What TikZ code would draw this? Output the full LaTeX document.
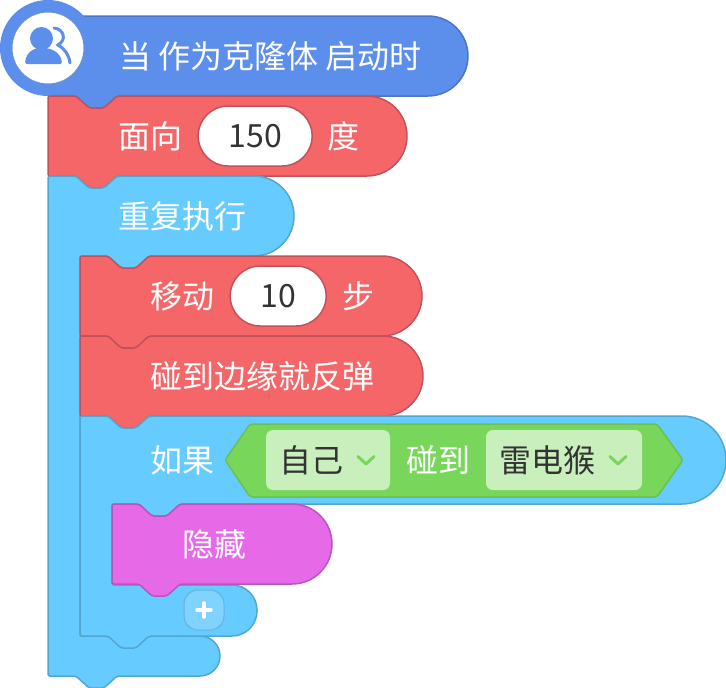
\documentclass[tikz,border=0pt]{standalone}
\usepackage{fontspec}
\usepackage{xcolor}
\setmainfont{Noto Sans CJK SC}
\usetikzlibrary{positioning}

\definecolor{headfill}{HTML}{5C8EEC}
\definecolor{headline}{HTML}{4A76C4}
\definecolor{motionfill}{HTML}{F56668}
\definecolor{motionline}{HTML}{C4515A}
\definecolor{loopfill}{HTML}{66CCFF}
\definecolor{loopline}{HTML}{52A6D0}
\definecolor{lookfill}{HTML}{E66AE8}
\definecolor{lookline}{HTML}{B855BA}
\definecolor{sensefill}{HTML}{78D65A}
\definecolor{senseline}{HTML}{6CC04E}
\definecolor{menufill}{HTML}{C9F0BC}
\definecolor{addfill}{HTML}{80D2FF}
\definecolor{addline}{HTML}{62B4DE}
\definecolor{darktext}{HTML}{333333}

% stack block: style, left, top, right, bottom
\newcommand{\stackblock}[5]{%
  \draw[#1, rounded corners=2pt] (#2,#3) -- (#2+28,#3) -- ++(13,12) -- ++(15,0) -- ++(13,-12)
    [rounded corners=40pt] -- (#4,#3) -- (#4,#5)
    [rounded corners=2pt] -- (#2+69,#5) -- ++(-13,12) -- ++(-15,0) -- ++(-13,-12) -- (#2,#5) -- cycle;
}

\begin{document}
\begin{tikzpicture}[
    x=1pt, y=-1pt,
    node distance=16pt,
    headblock/.style={draw=headline, fill=headfill, line width=1.5pt},
    motionblock/.style={draw=motionline, fill=motionfill, line width=1.5pt},
    loopblock/.style={draw=loopline, fill=loopfill, line width=1.5pt},
    lookblock/.style={draw=lookline, fill=lookfill, line width=1.5pt},
    senseblock/.style={draw=senseline, fill=sensefill, line width=1.5pt},
    whitetext/.style={text=white, font=\fontsize{32}{34}\selectfont, inner sep=0pt, anchor=west},
    pillbox/.style={draw=motionline, fill=white, line width=1.5pt, rounded corners=30pt,
      minimum height=60pt, inner sep=0pt, text=darktext, font=\fontsize{32}{34}\selectfont},
    menubox/.style={fill=menufill, rounded corners=7pt, minimum height=60pt, inner sep=0pt,
      text=darktext, font=\fontsize{32}{34}\selectfont},
    chevron/.style={draw=sensefill, line width=3pt, line cap=round, line join=round}
  ]
  \useasboundingbox (0,0) rectangle (726,688);

  % hat block
  \draw[headblock, rounded corners=2pt] (48,16) [rounded corners=40pt] -- (468,16) -- (468,96)
    [rounded corners=2pt] -- (117,96) -- ++(-13,12) -- ++(-15,0) -- ++(-13,-12) -- (48,96) -- cycle;
  \node[circle, fill=headfill, minimum size=96pt, inner sep=0pt] (hatdisc) at (48,48) {};
  \node[circle, fill=white, draw=headline!80, line width=1pt, minimum size=72pt, inner sep=0pt] (avatar) at (48,48) {};
  \fill[headfill] (41.5,38.5) circle (11.5);
  \fill[headfill, rounded corners=2pt] (25,64) .. controls (26,53) and (33,48) .. (41.5,48)
    .. controls (52,48) and (61,53) .. (62,64) -- cycle;
  \draw[headfill, line width=3pt, line cap=round] (54,28) .. controls (64,29) and (67,40) .. (58,45)
    .. controls (65,49) and (69,55) .. (70,63);
  \node[whitetext] (whenclone) at (119,56) {当 作为克隆体 启动时};

  % point in direction
  \stackblock{motionblock}{48}{96}{407}{176}
  \node[whitetext] (facelabel) at (118,136) {面向};
  \node[pillbox, minimum width=114pt, right=15pt of facelabel] (faceval) {150};
  \node[whitetext, right=14pt of faceval] (faceunit) {度};

  % forever
  \draw[loopblock, rounded corners=2pt] (48,176) -- (76,176) -- ++(13,12) -- ++(15,0) -- ++(13,-12)
    [rounded corners=40pt] -- (294,176) -- (294,256)
    [rounded corners=2pt] -- (149,256) -- ++(-13,12) -- ++(-15,0) -- ++(-13,-12)
    -- (80,256) -- (80,636)
    [rounded corners=20pt] -- (220,636) -- (220,676)
    [rounded corners=2pt] -- (117,676) -- ++(-13,12) -- ++(-15,0) -- ++(-13,-12) -- (48,676) -- cycle;
  \node[whitetext] (foreverlabel) at (118,216) {重复执行};

  % move
  \stackblock{motionblock}{80}{256}{422}{336}
  \node[whitetext] (movelabel) at (150,296) {移动};
  \node[pillbox, minimum width=96pt, right=15pt of movelabel] (moveval) {10};
  \node[whitetext, right=15pt of moveval] (moveunit) {步};

  % bounce
  \stackblock{motionblock}{80}{336}{423}{416}
  \node[whitetext] (bouncelabel) at (150,376) {碰到边缘就反弹};

  % if
  \draw[loopblock, rounded corners=2pt] (80,416) -- (108,416) -- ++(13,12) -- ++(15,0) -- ++(13,-12)
    [rounded corners=44pt] -- (726,416) -- (726,504)
    [rounded corners=2pt] -- (180,504) -- ++(-13,12) -- ++(-15,0) -- ++(-13,-12)
    -- (112,504) -- (112,585)
    [rounded corners=25pt] -- (257,585) -- (257,636)
    [rounded corners=2pt] -- (149,636) -- ++(-13,12) -- ++(-15,0) -- ++(-13,-12) -- (80,636) -- cycle;
  \node[whitetext] (iflabel) at (150,460) {如果};

  % touching
  \draw[senseblock, rounded corners=3pt] (225,460) -- (250,424) -- (657,424) -- (683,460) -- (657,497) -- (250,497) -- cycle;
  \node[menubox, minimum width=124pt] (selfmenu) at (328,460) {\hspace{-33pt}自己};
  \draw[chevron] (358,456.5) -- (366,464) -- (374,456.5);
  \node[whitetext] (touchlabel) at (406,460) {碰到};
  \node[menubox, minimum width=156pt] (spritemenu) at (564,460) {\hspace{-34pt}雷电猴};
  \draw[chevron] (610,456.5) -- (618,464) -- (626,456.5);

  % hide
  \draw[lookblock, rounded corners=2pt] (112,504) -- (139,504) -- ++(13,12) -- ++(15,0) -- ++(13,-12)
    [rounded corners=40pt] -- (332,504) -- (332,584)
    [rounded corners=2pt] -- (180,584) -- ++(-13,12) -- ++(-15,0) -- ++(-13,-12) -- (112,584) -- cycle;
  \node[whitetext] (hidelabel) at (182,544) {隐藏};

  % add button
  \node[draw=addline, fill=addfill, line width=1pt, rounded corners=14pt,
    minimum size=40pt, inner sep=0pt] (addbutton) at (204,610) {};
  \draw[white, line width=3.5pt, line cap=round] (197,610) -- (211,610) (204,603) -- (204,617);
\end{tikzpicture}
\end{document}
